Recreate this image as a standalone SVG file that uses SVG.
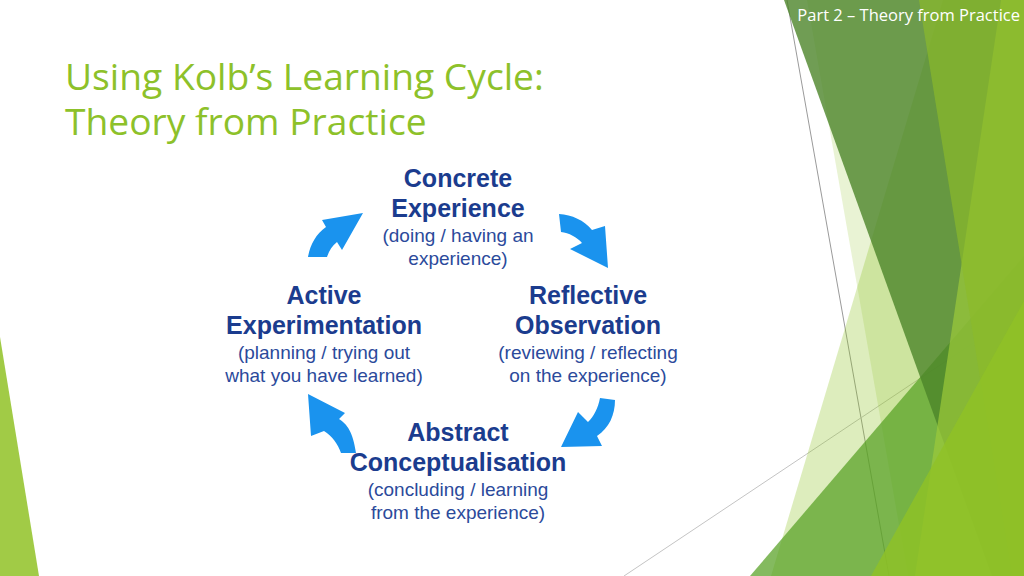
<svg xmlns="http://www.w3.org/2000/svg" width="1024" height="576" viewBox="0 0 1024 576">
<style>
.hd{font-family:"Liberation Sans",Arial,sans-serif;font-weight:bold;font-size:25px;fill:#1b3c8e;text-anchor:middle}
.sb{font-family:"Liberation Sans",Arial,sans-serif;font-size:19px;fill:#2b4a9b;text-anchor:middle}
.ttl{font-family:"Open Sans","Noto Sans",sans-serif;font-size:37.2px;fill:#8dc12a}
.arr{fill:#1a93ee}
</style>
<rect width="1024" height="576" fill="#ffffff"/>
<g id="background">
  <line x1="787" y1="0" x2="889" y2="576" stroke="#9a9a9a" stroke-width="1"/>
  <line x1="624" y1="576" x2="1024" y2="309" stroke="#c4c4c4" stroke-width="1"/>
  <polygon points="943,0 1024,0 1024,576 771,576" fill="#90C226" fill-opacity="0.3"/>
  <polygon points="807,0 1024,0 1024,576 908,576" fill="#90C226" fill-opacity="0.2"/>
  <polygon points="1024,256 750,576 1024,576" fill="#54A021" fill-opacity="0.72"/>
  <polygon points="784,0 1024,0 1024,576 992,576" fill="#4C8529" fill-opacity="0.8"/>
  <polygon points="1001,0 1024,0 1024,576 915,576" fill="#9CCB3A" fill-opacity="0.7"/>
  <polygon points="919,0 1024,0 1024,576 1012,576" fill="#8CBB2A" fill-opacity="0.67"/>
  <polygon points="1024,301 871,576 1024,576" fill="#90C226" fill-opacity="0.8"/>
  <polygon points="0,337 39,576 0,576" fill="#90C226" fill-opacity="0.85"/>
</g>
<g id="header">
  <text x="1020" y="21" font-family="'Open Sans','Noto Sans',sans-serif" font-size="16.5" fill="#ffffff" text-anchor="end">Part 2 – Theory from Practice</text>
</g>
<g id="title">
  <text class="ttl" x="65" y="90">Using Kolb’s Learning Cycle:<tspan x="65" y="135">Theory from Practice</tspan></text>
</g>
<g id="node-concrete">
  <text class="hd" x="458" y="187">Concrete</text>
  <text class="hd" x="458" y="217">Experience</text>
  <text class="sb" x="458" y="242">(doing / having an</text>
  <text class="sb" x="458" y="265">experience)</text>
</g>
<g id="node-reflective">
  <text class="hd" x="588" y="304">Reflective</text>
  <text class="hd" x="588" y="334">Observation</text>
  <text class="sb" x="588" y="359">(reviewing / reflecting</text>
  <text class="sb" x="588" y="382">on the experience)</text>
</g>
<g id="node-abstract">
  <text class="hd" x="458" y="441">Abstract</text>
  <text class="hd" x="458" y="471">Conceptualisation</text>
  <text class="sb" x="458" y="496">(concluding / learning</text>
  <text class="sb" x="458" y="519">from the experience)</text>
</g>
<g id="node-active">
  <text class="hd" x="324" y="304">Active</text>
  <text class="hd" x="324" y="334">Experimentation</text>
  <text class="sb" x="324" y="359">(planning / trying out</text>
  <text class="sb" x="324" y="382">what you have learned)</text>
</g>
<g id="connectors">
  <path class="arr" d="M308,257 C310,245 316,234 326,227 L322,220 L363,213 L342,250 L337,242 C332,246 329,251 327,257 Z"/>
  <path class="arr" d="M559,214 C572,215 584,220 592,230 L605,226 L608,268 L570,249 L582,243 C577,237 569,233 561,232 Z"/>
  <path class="arr" d="M600,398 L615,400 C615,415 609,428 597,436 L602,446 L561,447 L578,412 L588,422 C594,416 598,408 600,398 Z"/>
  <path class="arr" d="M308,394 L345,413 L339,419 C347,424 353,432 356,453 L341,453 C338,444 332,436 324,431 L311,436 Z"/>
</g>
</svg>
